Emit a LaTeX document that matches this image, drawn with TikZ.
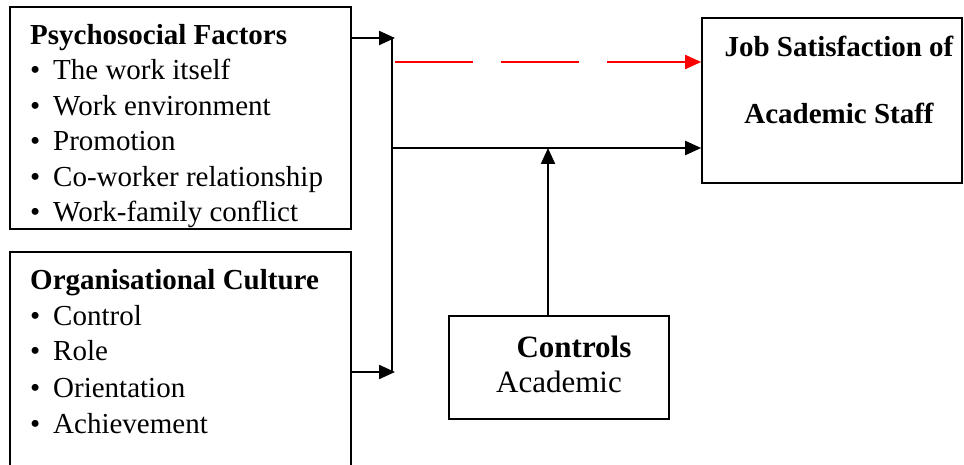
\documentclass[tikz,border=0pt]{standalone}
\usepackage{fontspec}
\setmainfont{Liberation Serif}
\usetikzlibrary{arrows.meta}
\begin{document}
\begin{tikzpicture}[x=1pt,y=-1pt,
  box/.style={draw,line width=1.6pt,rectangle,inner sep=0pt},
  txt/.style={anchor=base west,inner sep=0pt,font=\fontsize{29}{35}\selectfont},
  ctr/.style={anchor=base,inner sep=0pt,font=\fontsize{29}{35}\selectfont\bfseries},
  big/.style={anchor=base,inner sep=0pt,font=\fontsize{31}{37}\selectfont},
  arr/.style={line width=2.2pt,-{Triangle[length=16pt,width=14pt]}},
  redarr/.style={red,line width=1.8pt,dash pattern=on 78pt off 28pt,-{Triangle[length=16pt,width=14pt]}}]
\useasboundingbox (0,0) rectangle (964,465);
\clip (0,0) rectangle (964,465);
% boxes
\node[box,minimum width=341pt,minimum height=222pt] (psy) at (180.5,118) {};
\node[box,minimum width=341pt,minimum height=226pt] (org) at (180.5,365) {};
\node[box,minimum width=260pt,minimum height=165pt] (job) at (832,100.5) {};
\node[box,minimum width=220pt,minimum height=103pt] (ctl) at (559,367.5) {};
% texts box 1
\node[txt,font=\fontsize{29}{35}\selectfont\bfseries] (p0) at (30,45) {Psychosocial Factors};
\node[txt] (p1) at (30,80) {\makebox[23pt][l]{•}The work itself};
\node[txt] (p2) at (30,116) {\makebox[23pt][l]{•}Work environment};
\node[txt] (p3) at (30,151) {\makebox[23pt][l]{•}Promotion};
\node[txt] (p4) at (30,187) {\makebox[23pt][l]{•}Co-worker relationship};
\node[txt] (p5) at (30,222) {\makebox[23pt][l]{•}Work-family conflict};
% texts box 2
\node[txt,font=\fontsize{29}{35}\selectfont\bfseries] (o0) at (30,290) {Organisational Culture};
\node[txt] (o1) at (30,325) {\makebox[23pt][l]{•}Control};
\node[txt] (o2) at (30,360) {\makebox[23pt][l]{•}Role};
\node[txt] (o3) at (30,397) {\makebox[23pt][l]{•}Orientation};
\node[txt] (o4) at (30,433) {\makebox[23pt][l]{•}Achievement};
% job text
\node[ctr] (jt1) at (839,57) {Job Satisfaction of};
\node[ctr] (jt2) at (839,124) {Academic Staff};
% controls text
\node[big,font=\fontsize{31}{37}\selectfont\bfseries] (ct1) at (574,357) {Controls};
\node[big] (ct2) at (559,392) {Academic};
% connector points
\coordinate (a1) at (395,38);
\coordinate (a2) at (395,372);
\coordinate (v1) at (392,38);
\coordinate (v2) at (392,372);
\coordinate (v3) at (392,148);
\coordinate (r1) at (395,62);
\coordinate (c1) at (548,148);
% connectors
\draw[arr] (psy.east |- a1) -- (a1);
\draw[arr] (org.east |- a2) -- (a2);
\draw[line width=1.6pt] (v1) -- (v2);
\draw[arr] (v3) -- (job.west |- v3);
\draw[redarr] (r1) -- (job.west |- r1);
\draw[arr] (ctl.north -| c1) -- (c1);
\end{tikzpicture}
\end{document}
